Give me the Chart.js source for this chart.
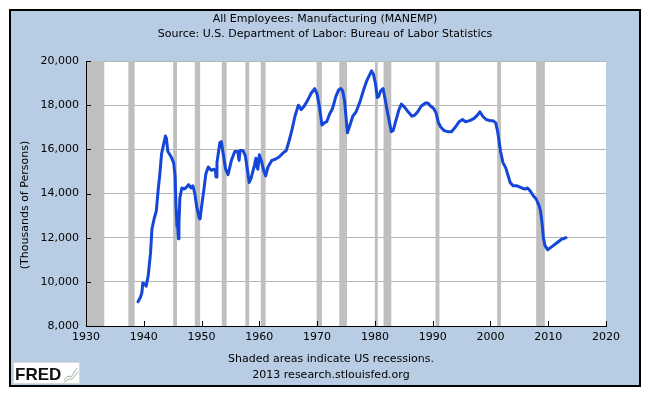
<!DOCTYPE html>
<html>
<head>
<meta charset="utf-8">
<script src="https://cdn.jsdelivr.net/npm/chart.js@4.4.1/dist/chart.umd.min.js"></script>
<style>
  html, body { margin: 0; padding: 0; background: #fff; }
  #wrap { width: 650px; height: 395px; }
</style>
</head>
<body>
<div id="wrap"><canvas id="chart" width="650" height="395"></canvas></div>
<script>
const chartTitle = 'All Employees: Manufacturing (MANEMP)';
const chartSource = 'Source: U.S. Department of Labor: Bureau of Labor Statistics';
const yAxisTitle = '(Thousands of Persons)';
const footnotes = ['Shaded areas indicate US recessions.', '2013 research.stlouisfed.org'];

const months = [
    '1939-01', '1939-06', '1939-09', '1939-11', '1940-03', '1940-06', '1940-10', '1941-03', '1941-06', '1941-11',
    '1942-03', '1942-07', '1942-10', '1943-02', '1943-06', '1943-10', '1943-12', '1944-03', '1944-06', '1944-10',
    '1945-03', '1945-06', '1945-08', '1945-10', '1945-11', '1946-01', '1946-02', '1946-04', '1946-08', '1946-12',
    '1947-04', '1947-10', '1948-03', '1948-07', '1948-11', '1949-03', '1949-08', '1949-10', '1950-01', '1950-06',
    '1950-10', '1951-03', '1951-09', '1952-03', '1952-06', '1952-07', '1952-09', '1953-03', '1953-06', '1953-10',
    '1954-03', '1954-08', '1955-03', '1955-10', '1956-04', '1956-07', '1956-09', '1957-03', '1957-08', '1957-12',
    '1958-04', '1958-08', '1959-03', '1959-06', '1959-08', '1959-10', '1960-01', '1960-05', '1960-10', '1961-02',
    '1961-07', '1962-03', '1962-10', '1963-06', '1964-03', '1964-09', '1965-03', '1965-09', '1966-03', '1966-10',
    '1967-04', '1967-10', '1968-06', '1969-01', '1969-08', '1970-01', '1970-06', '1970-11', '1971-04', '1971-09',
    '1972-03', '1972-09', '1973-04', '1973-10', '1974-02', '1974-06', '1974-10', '1975-04', '1975-10', '1976-03',
    '1976-10', '1977-06', '1978-01', '1978-08', '1979-06', '1979-10', '1980-02', '1980-06', '1980-09', '1981-01',
    '1981-06', '1981-10', '1982-03', '1982-11', '1983-03', '1983-08', '1984-03', '1984-08', '1985-03', '1985-10',
    '1986-06', '1986-12', '1987-06', '1988-01', '1988-10', '1989-03', '1989-09', '1990-03', '1990-08', '1991-01',
    '1991-06', '1992-01', '1992-08', '1993-04', '1993-12', '1994-08', '1995-03', '1995-09', '1996-06', '1997-03',
    '1997-10', '1998-03', '1998-09', '1999-04', '1999-12', '2000-06', '2000-12', '2001-04', '2001-10', '2002-03',
    '2002-09', '2003-06', '2003-12', '2004-08', '2005-06', '2006-01', '2006-06', '2006-12', '2007-06', '2007-12',
    '2008-06', '2008-09', '2008-12', '2009-03', '2009-06', '2009-12', '2010-06', '2010-12', '2011-06', '2011-12',
    '2012-06', '2012-09', '2012-12', '2013-02'
];
const employees = [
    9100, 9300, 9500, 9950, 9900, 9800, 10250, 11300, 12400, 12900,
    13200, 14200, 14800, 15800, 16200, 16600, 16500, 15900, 15800, 15650,
    15400, 14800, 13400, 12500, 12700, 11950, 12600, 13800, 14250, 14200,
    14250, 14400, 14250, 14350, 14000, 13400, 12900, 12850, 13400, 14200,
    14900, 15200, 15050, 15100, 15000, 14750, 15400, 16300, 16350, 15800,
    15100, 14850, 15500, 15900, 15900, 15500, 15950, 15950, 15700, 15100,
    14500, 14700, 15300, 15600, 15200, 15100, 15750, 15500, 15050, 14800,
    15200, 15500, 15550, 15650, 15850, 15950, 16400, 16900, 17500, 18000,
    17800, 17950, 18250, 18550, 18750, 18500, 17900, 17100, 17200, 17250,
    17600, 17850, 18400, 18700, 18750, 18650, 18200, 16750, 17150, 17500,
    17700, 18150, 18650, 19100, 19550, 19400, 19000, 18350, 18400, 18650,
    18750, 18300, 17700, 16800, 16850, 17250, 17800, 18050, 17900, 17700,
    17500, 17550, 17700, 17950, 18100, 18100, 17950, 17850, 17650, 17200,
    17000, 16850, 16800, 16800, 17000, 17250, 17350, 17250, 17300, 17400,
    17550, 17700, 17500, 17350, 17300, 17300, 17200, 16800, 15900, 15400,
    15150, 14500, 14350, 14350, 14250, 14200, 14250, 14100, 13900, 13750,
    13450, 13200, 12700, 12000, 11650, 11450, 11550, 11650, 11750, 11850,
    11950, 11950, 12000, 12000
];

// NBER recessions (peak month, trough month)
const recessionStarts = ['1929-08', '1937-05', '1945-02', '1948-11', '1953-07', '1957-08', '1960-04',
    '1969-12', '1973-11', '1980-01', '1981-07', '1990-07', '2001-03', '2007-12'];
const recessionEnds = ['1933-03', '1938-06', '1945-10', '1949-10', '1954-05', '1958-04', '1961-02',
    '1970-11', '1975-03', '1980-07', '1982-11', '1991-03', '2001-11', '2009-06'];

const xTicks = [1930, 1940, 1950, 1960, 1970, 1980, 1990, 2000, 2010, 2020];
const yTicks = [8000, 10000, 12000, 14000, 16000, 18000, 20000];

const FONT = '"DejaVu Sans", Verdana, sans-serif';

const monthToYear = (m) => {
    const [y, mo] = m.split('-').map(Number);
    return y + (mo - 1) / 12;
};

const points = months.map((m, i) => ({ x: monthToYear(m), y: employees[i] }));

const fredFrame = {
    id: 'fredFrame',
    beforeDraw(chart) {
        const { ctx, chartArea } = chart;
        ctx.save();
        ctx.fillStyle = '#ffffff';
        ctx.fillRect(0, 0, chart.width, chart.height);
        ctx.fillStyle = '#b8cde4';
        ctx.fillRect(10, 10, 630, 376);
        ctx.strokeStyle = '#000';
        ctx.lineWidth = 2;
        ctx.strokeRect(10, 10, 630, 376);
        ctx.fillStyle = '#ffffff';
        ctx.fillRect(chartArea.left, chartArea.top, chartArea.right - chartArea.left, chartArea.bottom - chartArea.top);
        ctx.restore();
    },
    beforeDatasetsDraw(chart) {
        const { ctx, chartArea, scales } = chart;
        ctx.save();
        ctx.beginPath();
        ctx.rect(chartArea.left, chartArea.top, chartArea.right - chartArea.left, chartArea.bottom - chartArea.top);
        ctx.clip();
        ctx.fillStyle = '#bfbfbf';
        recessionStarts.forEach((start, i) => {
            const x0 = scales.x.getPixelForValue(monthToYear(start));
            const x1 = scales.x.getPixelForValue(monthToYear(recessionEnds[i]));
            ctx.fillRect(x0, chartArea.top, x1 - x0, chartArea.bottom - chartArea.top);
        });
        ctx.restore();
    },
    afterDraw(chart) {
        const { ctx, chartArea, scales } = chart;
        ctx.save();
        // inward tick marks
        ctx.strokeStyle = '#000';
        ctx.lineWidth = 1;
        ctx.beginPath();
        yTicks.forEach(v => {
            const y = Math.round(scales.y.getPixelForValue(v)) + 0.5;
            ctx.moveTo(chartArea.left, y);
            ctx.lineTo(chartArea.left + 5, y);
        });
        xTicks.forEach(v => {
            const x = Math.round(scales.x.getPixelForValue(v)) + 0.5;
            ctx.moveTo(x, chartArea.bottom);
            ctx.lineTo(x, chartArea.bottom - 5);
        });
        ctx.stroke();

        // titles and notes
        ctx.fillStyle = '#000';
        ctx.font = '11px ' + FONT;
        ctx.textAlign = 'center';
        ctx.textBaseline = 'middle';
        ctx.fillText(chartTitle, 325, 19);
        ctx.fillText(chartSource, 325, 34);
        ctx.fillText(footnotes[0], 331, 359);
        ctx.fillText(footnotes[1], 331, 375);

        ctx.save();
        ctx.translate(25, 205);
        ctx.rotate(-Math.PI / 2);
        ctx.fillText(yAxisTitle, 0, 0);
        ctx.restore();

        // FRED badge
        ctx.fillStyle = '#fff';
        ctx.fillRect(13, 362, 67, 22);
        ctx.strokeStyle = '#d8d8d8';
        ctx.strokeRect(13.5, 362.5, 66, 21);
        ctx.fillStyle = '#111';
        ctx.font = 'bold 17px "Liberation Sans", Arial, sans-serif';
        ctx.textAlign = 'left';
        ctx.textBaseline = 'alphabetic';
        ctx.fillText('FRED', 15, 380);
        ctx.strokeStyle = '#9bb59b';
        ctx.lineWidth = 1;
        ctx.beginPath();
        ctx.moveTo(64, 380); ctx.lineTo(68, 376); ctx.lineTo(71, 377); ctx.lineTo(77, 368);
        ctx.moveTo(64, 382); ctx.lineTo(69, 379); ctx.lineTo(72, 379); ctx.lineTo(78, 372);
        ctx.stroke();
        ctx.restore();
    }
};

const tickFont = { family: FONT, size: 11 };

new Chart(document.getElementById('chart').getContext('2d'), {
    type: 'line',
    data: {
        datasets: [{
            data: points,
            borderColor: '#1446d8',
            borderWidth: 3,
            pointRadius: 0,
            tension: 0,
            borderJoinStyle: 'round',
            borderCapStyle: 'round'
        }]
    },
    options: {
        responsive: false,
        animation: false,
        devicePixelRatio: 1,
        layout: { padding: { left: 0, right: 44, top: 61, bottom: 49 } },
        plugins: {
            legend: { display: false },
            tooltip: { enabled: false }
        },
        scales: {
            x: {
                type: 'linear',
                min: 1930,
                max: 2020,
                afterFit: (scale) => { scale.height = 20; },
                afterBuildTicks: (scale) => { scale.ticks = xTicks.map(v => ({ value: v })); },
                grid: { display: false, drawTicks: false },
                border: { display: true, color: '#000', width: 1, z: 1 },
                ticks: {
                    padding: 5,
                    color: '#000',
                    font: tickFont,
                    maxRotation: 0,
                    autoSkip: false,
                    callback: (v) => String(v)
                }
            },
            y: {
                min: 8000,
                max: 20000,
                afterFit: (scale) => { scale.width = 86; },
                afterBuildTicks: (scale) => { scale.ticks = yTicks.map(v => ({ value: v })); },
                grid: { color: '#b4b4b4', drawTicks: false },
                border: { display: true, color: '#000', width: 1, z: 1 },
                ticks: {
                    padding: 7,
                    color: '#000',
                    font: tickFont,
                    callback: (v) => v.toLocaleString('en-US')
                }
            }
        }
    },
    plugins: [fredFrame]
});
</script>
</body>
</html>
